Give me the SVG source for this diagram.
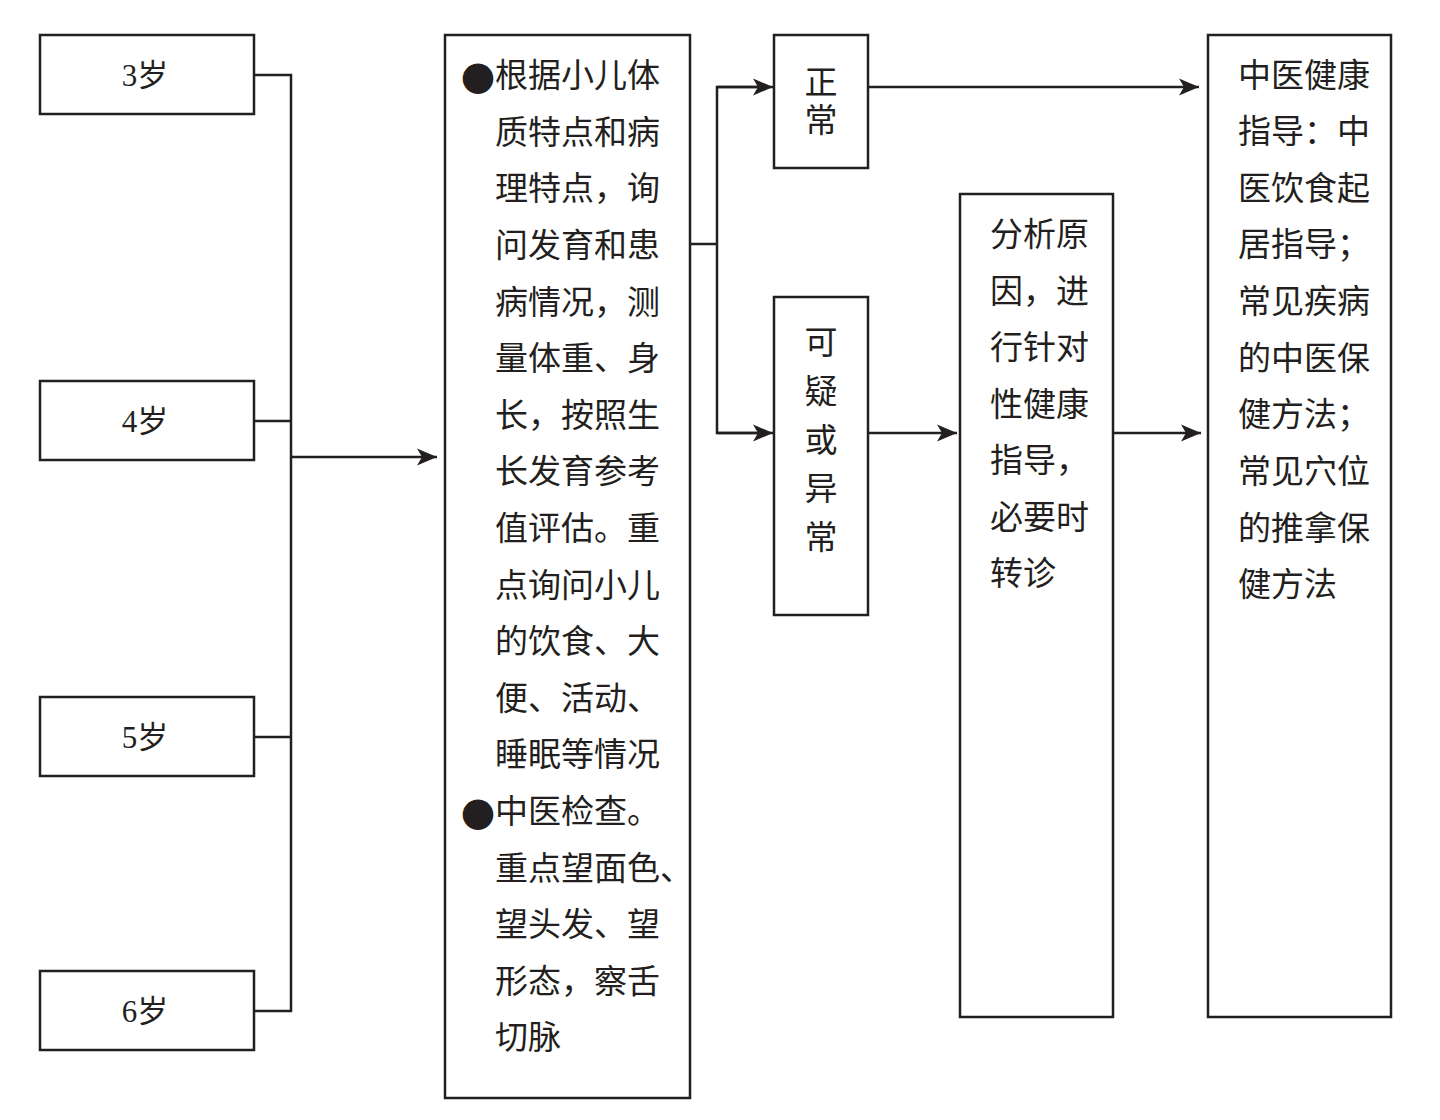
<svg xmlns="http://www.w3.org/2000/svg" width="1440" height="1120" viewBox="0 0 1440 1120">
<style>
.box{fill:#fff;stroke:#231f20;stroke-width:2.5}
.ln{fill:none;stroke:#231f20;stroke-width:2.5}
.t{font-family:"Liberation Serif","Noto Sans CJK SC",serif;font-size:33px;fill:#231f20}
.a{font-family:"Liberation Serif","Noto Sans CJK SC",serif;font-size:31px;fill:#231f20;text-anchor:middle}
.c{text-anchor:middle}
.b{font-family:"DejaVu Sans",sans-serif;font-size:40px;fill:#231f20;text-anchor:middle}
</style>
<defs>
<marker id="ar" markerUnits="userSpaceOnUse" markerWidth="22" markerHeight="20" refX="20" refY="10" orient="auto">
<path d="M0,1.5 L20,10 L0,18.5 L5,10 Z" fill="#231f20"/>
</marker>
</defs>
<rect width="1440" height="1120" fill="#fff"/>
<g id="connectors">
<polyline class="ln" points="254,75 291,75 291,1011 254,1011"/>
<line class="ln" x1="254" y1="421" x2="291" y2="421"/>
<line class="ln" x1="254" y1="737" x2="291" y2="737"/>
<line class="ln" x1="291" y1="457" x2="437" y2="457" marker-end="url(#ar)"/>
<line class="ln" x1="690" y1="244" x2="717" y2="244"/>
<polyline class="ln" points="760,87 717,87 717,433 760,433"/>
<line class="ln" x1="717" y1="87" x2="773" y2="87" marker-end="url(#ar)"/>
<line class="ln" x1="717" y1="433" x2="773" y2="433" marker-end="url(#ar)"/>
<line class="ln" x1="868" y1="87" x2="1199" y2="87" marker-end="url(#ar)"/>
<line class="ln" x1="868" y1="433" x2="957" y2="433" marker-end="url(#ar)"/>
<line class="ln" x1="1113" y1="433" x2="1201" y2="433" marker-end="url(#ar)"/>
</g>
<g id="age3"><rect class="box" x="40" y="35" width="214" height="79"/><text class="a" x="145" y="86">3岁</text></g>
<g id="age4"><rect class="box" x="40" y="381" width="214" height="79"/><text class="a" x="145" y="432">4岁</text></g>
<g id="age5"><rect class="box" x="40" y="697" width="214" height="79"/><text class="a" x="145" y="748">5岁</text></g>
<g id="age6"><rect class="box" x="40" y="971" width="214" height="79"/><text class="a" x="145" y="1022">6岁</text></g>
<g id="main">
<rect class="box" x="445" y="35" width="245" height="1063"/>
<text class="b" x="478" y="89">●</text>
<text class="t" x="495" y="87">根据小儿体</text>
<text class="t" x="495" y="144">质特点和病</text>
<text class="t" x="495" y="200">理特点，询</text>
<text class="t" x="495" y="257">问发育和患</text>
<text class="t" x="495" y="314">病情况，测</text>
<text class="t" x="495" y="370">量体重、身</text>
<text class="t" x="495" y="427">长，按照生</text>
<text class="t" x="495" y="483">长发育参考</text>
<text class="t" x="495" y="540">值评估。重</text>
<text class="t" x="495" y="597">点询问小儿</text>
<text class="t" x="495" y="653">的饮食、大</text>
<text class="t" x="495" y="710">便、活动、</text>
<text class="t" x="495" y="766">睡眠等情况</text>
<text class="b" x="478" y="825">●</text>
<text class="t" x="495" y="823">中医检查。</text>
<text class="t" x="495" y="880">重点望面色、</text>
<text class="t" x="495" y="936">望头发、望</text>
<text class="t" x="495" y="993">形态，察舌</text>
<text class="t" x="495" y="1049">切脉</text>
</g>
<g id="normal">
<rect class="box" x="774" y="35" width="94" height="133"/>
<text class="t c" x="821" y="94">正</text>
<text class="t c" x="821" y="132">常</text>
</g>
<g id="abnormal">
<rect class="box" x="774" y="297" width="94" height="318"/>
<text class="t c" x="821" y="354">可</text>
<text class="t c" x="821" y="403">疑</text>
<text class="t c" x="821" y="452">或</text>
<text class="t c" x="821" y="500">异</text>
<text class="t c" x="821" y="549">常</text>
</g>
<g id="analysis">
<rect class="box" x="960" y="194" width="153" height="823"/>
<text class="t" x="990" y="246">分析原</text>
<text class="t" x="990" y="303">因，进</text>
<text class="t" x="990" y="359">行针对</text>
<text class="t" x="990" y="416">性健康</text>
<text class="t" x="990" y="472">指导，</text>
<text class="t" x="990" y="529">必要时</text>
<text class="t" x="990" y="585">转诊</text>
</g>
<g id="guidance">
<rect class="box" x="1208" y="35" width="183" height="982"/>
<text class="t" x="1238" y="87">中医健康</text>
<text class="t" x="1238" y="143">指导：中</text>
<text class="t" x="1238" y="200">医饮食起</text>
<text class="t" x="1238" y="256">居指导；</text>
<text class="t" x="1238" y="313">常见疾病</text>
<text class="t" x="1238" y="370">的中医保</text>
<text class="t" x="1238" y="426">健方法；</text>
<text class="t" x="1238" y="483">常见穴位</text>
<text class="t" x="1238" y="540">的推拿保</text>
<text class="t" x="1238" y="596">健方法</text>
</g>
</svg>
